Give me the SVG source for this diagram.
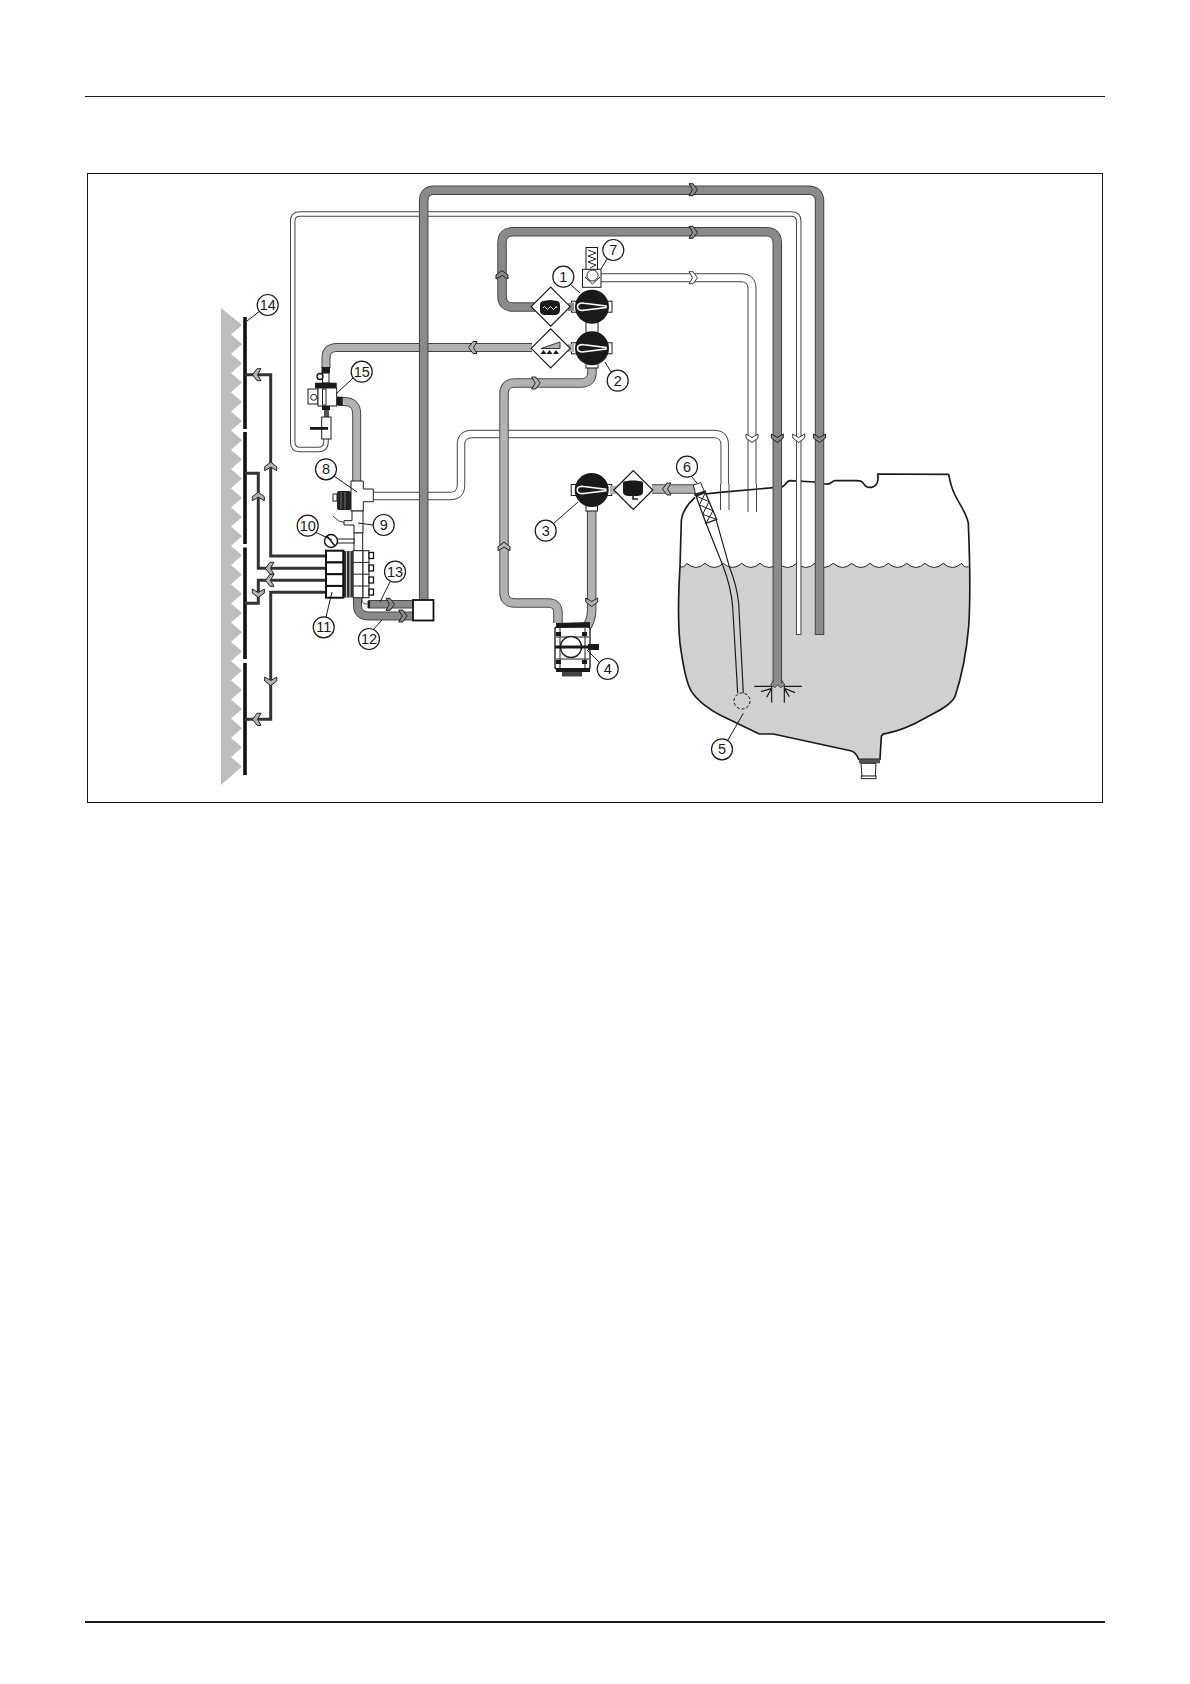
<svg xmlns="http://www.w3.org/2000/svg" xmlns:xlink="http://www.w3.org/1999/xlink" width="1190" height="1684" viewBox="0 0 1190 1684">
<style>
.lbl{fill:#fff;stroke:#1a1a1a;stroke-width:1.200}
.num{font-family:"Liberation Sans",Arial,sans-serif;font-size:14.500px;fill:#1a1a1a;text-anchor:middle}
.lead{stroke:#1a1a1a;stroke-width:1;fill:none}
.o{fill:none;stroke:#444}
.dark{fill:none;stroke:#8a8a8a}
.light{fill:none;stroke:#b2b2b2}
.wh{fill:none;stroke:#fff}
.thin{fill:none;stroke:#444;stroke-width:1}
.sec{fill:none;stroke:#333;stroke-width:3}
.ad{fill:#8a8a8a;stroke:#222;stroke-width:1}
.al{fill:#b2b2b2;stroke:#222;stroke-width:1}
.aw{fill:#fff;stroke:#333;stroke-width:1}
.dm{fill:#fff;stroke:#1a1a1a;stroke-width:1.200}
.part{fill:#fff;stroke:#1a1a1a;stroke-width:1}
.blk{fill:#1a1a1a;stroke:none}
</style>
<defs>
<path id="chev" d="M-4 -6L0 -6L4.500 0L0 6L-4 6L-.5 0Z"/>
<g id="valve">
<rect class="part" x="-20.500" y="-5.500" width="5" height="11"/>
<rect class="part" x="15" y="-5.500" width="5" height="11"/>
<circle class="blk" r="17"/>
<path d="M-14.500 0C-14.500 -3.500 -11 -4 -8 -3.500L14 -.8L14 .8L-8 3.500C-11 4 -14.500 3.500 -14.500 0Z" fill="#1a1a1a" stroke="#fff" stroke-width="1.600"/>
</g>
<path id="dia" class="dm" d="M-19.500 0L0 -19.500L19.500 0L0 19.500Z"/>
</defs>

<g id="page">
<line x1="85" y1="96.500" x2="1105" y2="96.500" stroke="#1a1a1a" stroke-width="1"/>
<line x1="85" y1="1622" x2="1105" y2="1622" stroke="#1a1a1a" stroke-width="2"/>
<rect x="87.500" y="173.500" width="1015" height="629" fill="#fff" stroke="#1a1a1a" stroke-width="1"/>
</g>

<g id="tank" transform="translate(660 420) scale(.33333)">
<path fill="#d0d0d0" d="M60 440Q72 445 80 430q27.500 25 55 0q27.500 25 55 0q27.500 25 55 0q27.500 25 55 0q27.500 25 55 0q27.500 25 55 0q27.500 25 55 0q27.500 25 55 0q27.500 25 55 0q27.500 25 55 0q27.500 25 55 0q27.500 25 55 0q27.500 25 55 0q27.500 25 55 0q27.500 25 55 0Q913 445 926 440C930 520 930 560 926 620C920 690 905 770 885 830C870 858 830 875 800 892C760 915 720 933 680 940C670 941 665 942 664 950L660 1018L596 1018C592 1008 588 998 575 993L340 942L298 942L180 885C150 870 110 840 95 815C78 790 68 730 60 670C53 600 55 520 60 440Z"/>
<path fill="none" stroke="#222" stroke-width="3" d="M60 440Q72 445 80 430q27.500 25 55 0q27.500 25 55 0q27.500 25 55 0q27.500 25 55 0q27.500 25 55 0q27.500 25 55 0q27.500 25 55 0q27.500 25 55 0q27.500 25 55 0q27.500 25 55 0q27.500 25 55 0q27.500 25 55 0q27.500 25 55 0q27.500 25 55 0q27.500 25 55 0Q913 445 926 440"/>
<path fill="none" stroke="#1a1a1a" stroke-width="5" stroke-linejoin="round" d="M105 232C85 250 68 270 64 300L60 440C55 520 53 600 60 670C68 730 78 790 95 815C110 840 150 870 180 885L298 942L340 942L575 993C588 998 592 1008 596 1018L660 1018L664 950C665 942 670 941 680 940C720 933 760 915 800 892C830 875 870 858 885 830C905 770 920 690 926 620C930 560 930 430 925 310C920 280 905 265 885 225C875 205 870 185 866 163L653 162C656 180 652 195 640 200C625 206 615 198 610 190C605 182 600 182 590 182L525 182C515 182 515 195 495 192L465 186L390 182C378 182 378 198 365 201L180 217L135 222"/>
<path d="M597 1018H660V1030H597Z" fill="#555"/>
<path d="M603 1030L648 1030L646 1069L606 1069Z" fill="#fff" stroke="#222" stroke-width="3"/>
<rect x="604" y="1068" width="44" height="8" fill="#fff" stroke="#222" stroke-width="3"/>
<path fill="none" stroke="#1a1a1a" stroke-width="3.500" d="M138 310L190 440C205 480 215 520 218 560L233 820M168 298L208 440C222 475 232 510 236 550L250 820"/>
<circle cx="246" cy="843" r="24" fill="#d0d0d0" stroke="#1a1a1a" stroke-width="3" stroke-dasharray="9 6"/>
<path fill="none" stroke="#1a1a1a" stroke-width="3.500" d="M283 799H335V848M425 799H373V848M335 805L303 815M335 805L320 832M373 805L405 818M373 805L388 830"/>
<path id="nozzle" d="M340 780L365 780L375 795L362 803L352 795L345 803L332 795Z" fill="#8a8a8a" stroke="#222" stroke-width="2"/>
</g>

<g id="boom">
<path fill="#bdbdbd" d="M221 308L242 325L231 334.600L242 344.200L231 353.800L242 363.400L231 373L242 382.600L231 392.200L242 401.800L231 411.400L242 421L231 430.600L242 440.200L231 449.800L242 459.400L231 469L242 478.600L231 488.200L242 497.800L231 507.400L242 517L231 526.600L242 536.200L231 545.800L242 555.400L231 565L242 574.600L231 584.200L242 593.800L231 603.400L242 613L231 622.600L242 632.200L231 641.800L242 651.400L231 661L242 670.600L231 680.200L242 689.800L231 699.400L242 709L231 718.600L242 728.200L231 737.800L242 747.400L231 757L242 766.600L221 785Z"/>
<path stroke="#111" stroke-width="3.600" fill="none" d="M245 317V429M245 432V544M245 547.500V659M245 663V775"/>
</g>

<g id="connectors">
<!-- boom section lines -->
<path class="sec" d="M245 374.700H270.700V556H326"/>
<path class="sec" d="M245 473.300H258.300V568.300H326"/>
<path class="sec" d="M245 603.300H258.300V580.300H326"/>
<path class="sec" d="M326 592.300H270.700V719.300H245"/>
<use xlink:href="#chev" class="al" transform="translate(257 374.700) rotate(180)"/>
<use xlink:href="#chev" class="al" transform="translate(270.700 466.700) rotate(-90)"/>
<use xlink:href="#chev" class="al" transform="translate(258.300 496.700) rotate(-90)"/>
<use xlink:href="#chev" class="al" transform="translate(270 568.300) rotate(180)"/>
<use xlink:href="#chev" class="al" transform="translate(270 580.300) rotate(180)"/>
<use xlink:href="#chev" class="al" transform="translate(258.300 593) rotate(90)"/>
<use xlink:href="#chev" class="al" transform="translate(270.700 681) rotate(90)"/>
<use xlink:href="#chev" class="al" transform="translate(257 719.300) rotate(180)"/>

<!-- return line from tee 8 to tank -->
<path class="o" stroke-width="8.500" d="M370 496H450Q461 496 461 485V445Q461 434 472 434H714Q724.700 434 724.700 445V484"/>
<path class="wh" stroke-width="6.500" d="M370 496H450Q461 496 461 485V445Q461 434 472 434H714Q724.700 434 724.700 445V484"/>
<path class="thin" d="M720.500 484V510M729 484V510"/>

<!-- relief valve return -->
<path class="o" stroke-width="9" d="M598 277.700H741Q752 277.700 752 289V484"/>
<path class="wh" stroke-width="7" d="M598 277.700H741Q752 277.700 752 289V484"/>
<path class="thin" d="M748 484V512M756.500 484V512"/>

<!-- agitation/regulator white line -->
<path class="o" stroke-width="5.500" d="M326 437V442Q326 449.500 318 449.500H300Q292.700 449.500 292.700 442V221Q292.700 214 300 214H791Q798.700 214 798.700 221V635"/>
<path class="wh" stroke-width="3.500" d="M326 437V442Q326 449.500 318 449.500H300Q292.700 449.500 292.700 442V221Q292.700 214 300 214H791Q798.700 214 798.700 221V634"/>

<!-- pressure line -->
<path class="o" stroke-width="9" d="M326 368V358Q326 347.500 337 347.500H532"/>
<path class="light" stroke-width="7" d="M326 368V358Q326 347.500 337 347.500H532"/>
<path class="o" stroke-width="9" d="M356.700 482V414Q356.700 401.500 344 401.500H338"/>
<path class="light" stroke-width="7" d="M356.700 482V414Q356.700 401.500 344 401.500H338"/>

<!-- pump suction and pressure -->
<path class="o" stroke-width="9.500" d="M592 364V372Q592 383 581 383H515Q504 383 504 394V592Q504 603 515 603H548Q558 603 558 613V623"/>
<path class="light" stroke-width="7.500" d="M592 364V372Q592 383 581 383H515Q504 383 504 394V592Q504 603 515 603H548Q558 603 558 613V623"/>
<path class="o" stroke-width="9.500" d="M591.700 508V610Q591.700 620 586 628"/>
<path class="light" stroke-width="7.500" d="M591.700 508V610Q591.700 620 586 628"/>
<path class="o" stroke-width="9.500" d="M652 489H696"/>
<path class="light" stroke-width="7.500" d="M652 489H696"/>

<!-- agitation dark pipe C -->
<path class="o" stroke-width="9.500" d="M535 307H513Q502 307 502 296V243Q502 231.700 513 231.700H766Q777.300 231.700 777.300 243V683"/>
<path class="dark" stroke-width="7.500" d="M535 307H513Q502 307 502 296V243Q502 231.700 513 231.700H766Q777.300 231.700 777.300 243V683"/>

<!-- return dark pipe A -->
<path class="o" stroke-width="9.500" d="M423.700 601V201Q423.700 190.300 434 190.300H808Q819.500 190.300 819.500 201V635"/>
<path class="dark" stroke-width="7.500" d="M423.700 601V201Q423.700 190.300 434 190.300H808Q819.500 190.300 819.500 201V634"/>

<!-- pipes 12 and 13 -->
<path class="o" stroke-width="8.500" d="M368 604.300H413"/>
<path class="dark" stroke-width="6.500" d="M368 604.300H413"/>
<path class="o" stroke-width="9" d="M357.500 596V605Q357.500 616 369 616H413"/>
<path class="dark" stroke-width="7" d="M357.500 596V605Q357.500 616 369 616H413"/>
<path class="o" stroke-width="1" d="M362 597V600Q362 604 367 604"/>

<!-- flow arrows -->
<use xlink:href="#chev" class="ad" transform="translate(693 189.700)"/>
<use xlink:href="#chev" class="ad" transform="translate(693 232.300)"/>
<use xlink:href="#chev" class="aw" transform="translate(693 277.700)"/>
<use xlink:href="#chev" class="ad" transform="translate(502 275) rotate(-90)"/>
<use xlink:href="#chev" class="al" transform="translate(473 347.500) rotate(180)"/>
<use xlink:href="#chev" class="al" transform="translate(535.700 383)"/>
<use xlink:href="#chev" class="al" transform="translate(504 546.700) rotate(-90)"/>
<use xlink:href="#chev" class="al" transform="translate(591.700 602) rotate(90)"/>
<use xlink:href="#chev" class="al" transform="translate(667 489) rotate(180)"/>
<use xlink:href="#chev" class="aw" transform="translate(752 438) rotate(90)"/>
<use xlink:href="#chev" class="ad" transform="translate(777.300 438) rotate(90)"/>
<use xlink:href="#chev" class="aw" transform="translate(798.700 438) rotate(90)"/>
<use xlink:href="#chev" class="ad" transform="translate(819.500 438) rotate(90)"/>
<use xlink:href="#chev" class="ad" transform="translate(390 604.300)"/>
<use xlink:href="#chev" class="ad" transform="translate(402.700 616)"/>
</g>

<g id="box-return"><rect x="413" y="600" width="20.500" height="20.500" fill="#fff" stroke="#111" stroke-width="1.800"/></g>

<g id="strainer-6" transform="translate(660 420) scale(.33333)">
<path d="M100 195L122 188L135 218L108 228Z" fill="#fff" stroke="#222" stroke-width="3"/>
<path d="M103 225L138 214" stroke="#222" stroke-width="7"/>
<path d="M108 228L136 218L170 298L138 310Z" fill="#fff" stroke="#222" stroke-width="4"/>
<path d="M108 228L147 245M136 218L118 255M118 255L159 272M147 245L128 283M128 283L170 298M159 272L138 310" fill="none" stroke="#222" stroke-width="3"/>
</g>

<g id="valve-1"><rect class="part" x="586" y="322" width="12" height="14"/><use xlink:href="#valve" x="592" y="306.700"/></g>
<g id="valve-2"><rect class="part" x="586" y="362" width="12" height="6"/><use xlink:href="#valve" x="592" y="348.300"/></g>
<g id="valve-3"><rect class="part" x="586" y="503" width="11.500" height="8"/><use xlink:href="#valve" x="591.700" y="490"/></g>

<g id="diamond-1">
<rect x="568" y="303" width="6" height="8" fill="#8a8a8a"/>
<use xlink:href="#dia" x="550.700" y="306.700"/>
<path class="blk" d="M540 305C540 300 545 301 550 300C556 301 560 300 560 305V310C560 314 557 315 555 315H545C542 315 540 314 540 310Z"/>
<path fill="none" stroke="#fff" stroke-width=".9" d="M543 308q1.500 -3 3 0t3 0t3 0t3 0t2 0"/>
</g>
<g id="diamond-2">
<rect x="568" y="344" width="6" height="8" fill="#b2b2b2"/>
<use xlink:href="#dia" x="550.700" y="348.300"/>
<path d="M541 348.500L560 342V348.500Z" fill="#b2b2b2" stroke="#222" stroke-width=".9"/>
<path class="blk" d="M540.500 354L543.500 350L546.500 354ZM546.500 354L549.500 350L552.500 354ZM553 354L556 350L559 354Z"/>
</g>
<g id="diamond-3">
<rect x="610" y="486" width="6" height="8" fill="#b2b2b2"/>
<use xlink:href="#dia" x="633.300" y="490"/>
<path class="blk" d="M623 482C628 480 638 480 643 482V492C643 495 640 496 636 496H630C626 496 623 495 623 492Z"/>
<path fill="none" stroke="#222" stroke-width="1.600" d="M633 496V499H638"/>
</g>

<g id="relief-7">
<rect class="part" x="586" y="247.500" width="11.500" height="22"/>
<path fill="none" stroke="#222" stroke-width="1" d="M588 250L596 253L588 256L596 259L588 262L596 265L590 268"/>
<rect class="part" x="582.500" y="269.300" width="18.500" height="18"/>
<circle cx="592.500" cy="275.500" r="5.500" fill="#fff" stroke="#222" stroke-width="1"/>
<path fill="none" stroke="#222" stroke-width="1" d="M585 277L592.500 284L600 277"/>
</g>

<g id="pump-4">
<rect x="555" y="627" width="35" height="42" rx="2" fill="#fff" stroke="#222" stroke-width="1.400"/>
<path class="blk" d="M556 623L590 622V627L556 628Z"/>
<path fill="none" stroke="#222" stroke-width="1" d="M560 628V668M585 628V668M556 637H589M556 659H589"/>
<circle cx="571" cy="647" r="10.500" fill="#fff" stroke="#222" stroke-width="1.400"/>
<rect class="blk" x="555" y="645.500" width="35" height="3"/>
<rect class="blk" x="588" y="644" width="11" height="6"/>
<rect class="blk" x="556" y="632" width="5" height="4"/><rect class="blk" x="582" y="632" width="5" height="4"/>
<rect class="blk" x="556" y="660" width="5" height="4"/><rect class="blk" x="582" y="660" width="5" height="4"/>
<rect class="blk" x="556" y="668" width="34" height="4"/>
<rect x="562" y="672" width="20" height="4.500" fill="#444"/>
</g>

<g id="valve-15">
<rect class="blk" x="321.500" y="367" width="8.500" height="6"/>
<rect class="part" x="322.500" y="373" width="6.500" height="10"/>
<circle cx="320" cy="376.500" r="3" fill="#fff" stroke="#111" stroke-width="1.400"/>
<rect class="blk" x="315" y="382.700" width="21.700" height="5.500"/>
<rect class="part" x="308" y="389" width="10" height="15"/>
<circle cx="313.700" cy="397.300" r="3" fill="#fff" stroke="#222" stroke-width="1"/>
<rect class="part" x="318" y="388" width="18.700" height="18"/>
<rect x="322.500" y="389" width="3.500" height="16" fill="#fff" stroke="#222" stroke-width="1"/>
<rect class="blk" x="322" y="406" width="8" height="4"/>
<rect class="blk" x="336.700" y="396.700" width="6" height="8.600"/>
<rect x="324" y="410" width="5" height="7" fill="#555"/>
<rect class="part" x="321.700" y="417" width="9.300" height="22"/>
<rect class="blk" x="310" y="427" width="18" height="2.800"/>
</g>

<g id="tee-8">
<path class="part" d="M351 481H363.300V489H373.300V501.700H363.300V511H351Z"/>
<rect x="337" y="491" width="14" height="19" rx="2" fill="#222"/>
<rect x="333" y="494" width="4" height="7" fill="#fff" stroke="#222" stroke-width="1"/>
<path stroke="#888" stroke-width=".8" d="M341 492V509M345 492V509"/>
</g>

<g id="tee-9">
<path class="part" d="M352 511H363V533H354V525H344V520.700H352Z"/>
<path class="thin" d="M333 516Q338 522 344 522.500"/>
<rect class="part" x="354" y="533" width="8.700" height="18"/>
</g>

<g id="gauge-10">
<rect class="part" x="337" y="539" width="17" height="4"/>
<circle cx="331" cy="541" r="6.500" fill="#fff" stroke="#111" stroke-width="1.400"/>
<line x1="327" y1="536" x2="335" y2="546" stroke="#111" stroke-width="1.400"/>
</g>

<g id="manifold-11">
<rect class="part" x="353" y="550.700" width="10" height="47"/>
<rect class="part" x="363" y="550.700" width="6" height="47"/>
<path stroke="#222" stroke-width="1" d="M353 562.400H369M353 574.200H369M353 586H369"/>
<rect x="343.300" y="551" width="10" height="46.500" fill="#333"/>
<path stroke="#ccc" stroke-width="1" d="M346.500 551V597.500M350 551V597.500"/>
<rect x="326" y="550.700" width="17.300" height="11.750" fill="#fff" stroke="#111" stroke-width="2"/>
<rect x="326" y="562.450" width="17.300" height="11.750" fill="#fff" stroke="#111" stroke-width="2"/>
<rect x="326" y="574.200" width="17.300" height="11.750" fill="#fff" stroke="#111" stroke-width="2"/>
<rect x="326" y="585.950" width="17.300" height="11.750" fill="#fff" stroke="#111" stroke-width="2"/>
<rect x="369" y="552.500" width="4.500" height="6" fill="#fff" stroke="#111" stroke-width="1.300"/>
<rect x="369" y="565" width="4.500" height="6" fill="#fff" stroke="#111" stroke-width="1.300"/>
<rect x="369" y="577" width="4.500" height="6" fill="#fff" stroke="#111" stroke-width="1.300"/>
<rect x="369" y="589" width="4.500" height="6" fill="#fff" stroke="#111" stroke-width="1.300"/>
<rect class="blk" x="367.500" y="601" width="2.500" height="7"/>
</g>

<g id="labels">
<path class="lead" d="M247 321L260 311M336 394L353 378M570 284L580 293M605 362L611 372M601 269L607 259M578 502L553 524M587 650L599 662M743.300 713.300L728 740M697 483L691 476M357 492L334 476M358 523L373 525M332 540L315 532M332 592L326 617M382 620L373 630M380 602L390 582"/>
<g><circle class="lbl" cx="563.300" cy="276.700" r="10.500"/><text class="num" x="563.300" y="281.800">1</text></g>
<g><circle class="lbl" cx="617.700" cy="380.700" r="10.500"/><text class="num" x="617.700" y="385.800">2</text></g>
<g><circle class="lbl" cx="545.700" cy="530.700" r="10.500"/><text class="num" x="545.700" y="535.800">3</text></g>
<g><circle class="lbl" cx="607.700" cy="669" r="10.500"/><text class="num" x="607.700" y="674.100">4</text></g>
<g><circle class="lbl" cx="722" cy="749.300" r="10.500"/><text class="num" x="722" y="754.400">5</text></g>
<g><circle class="lbl" cx="687" cy="466.700" r="10.500"/><text class="num" x="687" y="471.800">6</text></g>
<g><circle class="lbl" cx="613.300" cy="250" r="10.500"/><text class="num" x="613.300" y="255.100">7</text></g>
<g><circle class="lbl" cx="326" cy="469.300" r="10.500"/><text class="num" x="326" y="474.400">8</text></g>
<g><circle class="lbl" cx="383.700" cy="525" r="10.500"/><text class="num" x="383.700" y="530.100">9</text></g>
<g><circle class="lbl" cx="307.700" cy="525.700" r="10.500"/><text class="num" x="307.700" y="530.800">10</text></g>
<g><circle class="lbl" cx="323.700" cy="627.300" r="10.500"/><text class="num" x="323.700" y="632.400">11</text></g>
<g><circle class="lbl" cx="369" cy="639" r="10.500"/><text class="num" x="369" y="644.100">12</text></g>
<g><circle class="lbl" cx="395" cy="571.700" r="10.500"/><text class="num" x="395" y="576.800">13</text></g>
<g><circle class="lbl" cx="267.700" cy="305" r="10.500"/><text class="num" x="267.700" y="310.100">14</text></g>
<g><circle class="lbl" cx="361.700" cy="371.700" r="10.500"/><text class="num" x="361.700" y="376.800">15</text></g>
</g>
</svg>
